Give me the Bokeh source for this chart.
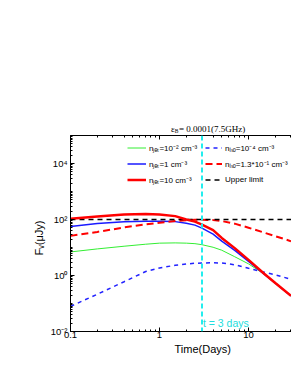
import math
from bokeh.plotting import figure
from bokeh.layouts import column
from bokeh.models import (FixedTicker, LogAxis, Legend, LegendItem, Span, Label, Title,
                          CustomJSTickFormatter, Range1d)
from bokeh.embed import file_html
from bokeh.resources import INLINE

# ---- data ----
times = [0.1, 0.2, 0.4, 0.7, 1.0, 1.5, 2.0, 2.5, 3.0, 4.0, 5.0, 7.0, 10, 15, 20, 30]
jet_1e_2 = [6.95, 8.9, 11.1, 13.1, 14.3, 14.6, 14.3, 13.7, 12.6, 10.2, 8.0, 4.68, 2.6, 1.12, 0.53, 0.186]
jet_1 = [56, 72, 83, 87, 87, 84, 74, 63, 49, 30, 17, 7.9, 3.2, 1.12, 0.53, 0.186]
jet_10 = [107, 127, 150, 156, 150, 132, 100, 84, 66, 42, 22, 9.5, 3.6, 1.15, 0.54, 0.187]
iso_1e_4 = [0.079, 0.214, 0.60, 1.39, 1.86, 2.32, 2.58, 2.74, 2.8, 2.85, 2.8, 2.42, 1.81, 1.32, 1.06, 0.73]
iso_013 = [26, 36, 52, 67, 77, 88, 94, 97, 98.5, 95, 88, 71, 51, 34, 25.4, 16.8]
upper_limit = [100] * len(times)
t_mark = 3

x_major = [0.1, 1, 10]
x_minor = [m * 10 ** k for k in (-1, 0, 1) for m in range(1, 10) if m * 10 ** k <= 30.4]
y_major = [1e-2, 1, 1e2, 1e4]
y_minor = [m * 10.0 ** k for k in range(-2, 5) for m in range(1, 10)]

lab_jet_1e_2 = "n\u2c7c\u2091\u209c=10\u207b\u00b2 cm\u207b\u00b3"
lab_jet_1 = "n\u2c7c\u2091\u209c=1 cm\u207b\u00b3"
lab_jet_10 = "n\u2c7c\u2091\u209c=10 cm\u207b\u00b3"
lab_iso_1e_4 = "n\u1d62\u209b\u2092=10\u207b\u2074 cm\u207b\u00b3"
lab_iso_013 = "n\u1d62\u209b\u2092=1.3*10\u207b\u00b9 cm\u207b\u00b3"
lab_upper = "Upper limit"

FONT = "Liberation Sans"
SERIF = "Liberation Serif"

# ---- title strip (frames are aligned with the main plot: x measured from its frame) ----
tf = figure(width=291, height=135, x_range=Range1d(0, 1), y_range=Range1d(0, 1),
            output_backend="svg", toolbar_location=None,
            x_axis_location=None, y_axis_location=None,
            min_border_left=0, min_border_right=0, min_border_top=0, min_border_bottom=0)
tf.outline_line_color = None
tf.grid.visible = False
tf.add_layout(Label(x=100.5, y=7, x_units="screen", y_units="screen", text="\u03b5",
                    text_font=SERIF, text_font_size="9px", text_align="left",
                    text_baseline="alphabetic", text_color="black"))
tf.add_layout(Label(x=104.3, y=5, x_units="screen", y_units="screen", text="B",
                    text_font=SERIF, text_font_size="5.5px", text_align="left",
                    text_baseline="alphabetic", text_color="black"))
tf.add_layout(Label(x=108.5, y=7, x_units="screen", y_units="screen", text="= 0.0001(7.5GHz)",
                    text_font=SERIF, text_font_size="9px", text_align="left",
                    text_baseline="alphabetic", text_color="black"))

# ---- main plot ----
p = figure(width=291, height=238, x_axis_type="log", y_axis_type="log",
           x_range=(0.1, 30.4), y_range=(1e-2, 1e5),
           output_backend="svg", toolbar_location=None,
           min_border_left=70, min_border_right=0, min_border_top=0, min_border_bottom=42)
p.outline_line_color = None
p.grid.visible = False

r_green = p.line(times, jet_1e_2, line_color="#33ee33", line_width=1)
r_bdash = p.line(times, iso_1e_4, line_color="#2222ff", line_width=1.5, line_dash="4 4")
r_blue = p.line(times, jet_1, line_color="#1a1aff", line_width=1.5)
r_rdash = p.line(times, iso_013, line_color="#ff0000", line_width=2, line_dash="7 4")
r_upper = p.line(times, upper_limit, line_color="black", line_width=1.5, line_dash="5 4")
r_red = p.line(times, jet_10, line_color="#ff0000", line_width=2.5)

p.add_layout(Span(location=t_mark, dimension="height", line_color="#22eeee",
                  line_width=2, line_dash="5 3"))

xfmt = CustomJSTickFormatter(code="return tick < 1 ? tick.toFixed(1) : tick.toFixed(0);")
yfmt = CustomJSTickFormatter(code="""
const e = Math.round(Math.log10(tick));
const sup = {'-':'\u207b','0':'\u2070','1':'\u00b9','2':'\u00b2','3':'\u00b3','4':'\u2074','5':'\u2075'};
return '10' + String(e).split('').map(c => sup[c]).join('');
""")

def style(ax):
    ax.axis_line_color = "black"
    ax.axis_line_width = 1
    ax.major_tick_in = 4
    ax.major_tick_out = 0
    ax.minor_tick_in = 2
    ax.minor_tick_out = 0
    ax.major_tick_line_color = "black"
    ax.minor_tick_line_color = "black"
    ax.major_label_text_font = FONT
    ax.major_label_text_font_size = "9.5px"
    ax.major_label_text_color = "black"

xa = p.xaxis[0]
xa.ticker = FixedTicker(ticks=x_major, minor_ticks=x_minor)
xa.formatter = xfmt
style(xa)
xa.major_label_standoff = 0

ya = p.yaxis[0]
ya.ticker = FixedTicker(ticks=y_major, minor_ticks=y_minor)
ya.formatter = yfmt
style(ya)
ya.major_label_standoff = 3

top = LogAxis(ticker=FixedTicker(ticks=x_major, minor_ticks=x_minor),
              formatter=CustomJSTickFormatter(code="return '';"))
style(top)
top.major_label_standoff = 0
top.major_label_text_font_size = "1px"
p.add_layout(top, "above")

# axis titles
p.add_layout(Title(text="Time(Days)", align="left", offset=104, standoff=0,
                   text_font=FONT, text_font_size="11px", text_font_style="normal",
                   text_line_height=0.7, text_color="black"), "below")
p.add_layout(Title(text="F\u1d65(\u03bcJy)", align="left", offset=76, standoff=6,
                   text_font=FONT, text_font_size="11px", text_font_style="normal",
                   text_color="black"), "left")

p.add_layout(Label(x=t_mark, y=9, x_units="data", y_units="screen", x_offset=1,
                   text="t = 3 days", text_font=FONT, text_font_size="10.5px",
                   text_align="left", text_baseline="middle", text_color="#22dddd"))

def make_legend(items, loc, gw, standoff):
    return Legend(items=items, location=loc, padding=0, margin=0, spacing=1,
                  glyph_height=15, label_height=15, glyph_width=gw, label_standoff=standoff,
                  background_fill_alpha=0, border_line_color=None,
                  label_text_font=FONT, label_text_font_size="8px", label_text_color="black")

leg1 = make_legend([LegendItem(label=lab_jet_1e_2, renderers=[r_green]),
                    LegendItem(label=lab_jet_1, renderers=[r_blue]),
                    LegendItem(label=lab_jet_10, renderers=[r_red])], (57, 144), 19, 3)
leg2 = make_legend([LegendItem(label=lab_iso_1e_4, renderers=[r_bdash]),
                    LegendItem(label=lab_iso_013, renderers=[r_rdash]),
                    LegendItem(label=lab_upper, renderers=[r_upper])], (135, 144), 17, 3)
p.add_layout(leg1)
p.add_layout(leg2)

layout = column(tf, p, spacing=0)
open("out.html", "w").write(file_html(layout, INLINE))
